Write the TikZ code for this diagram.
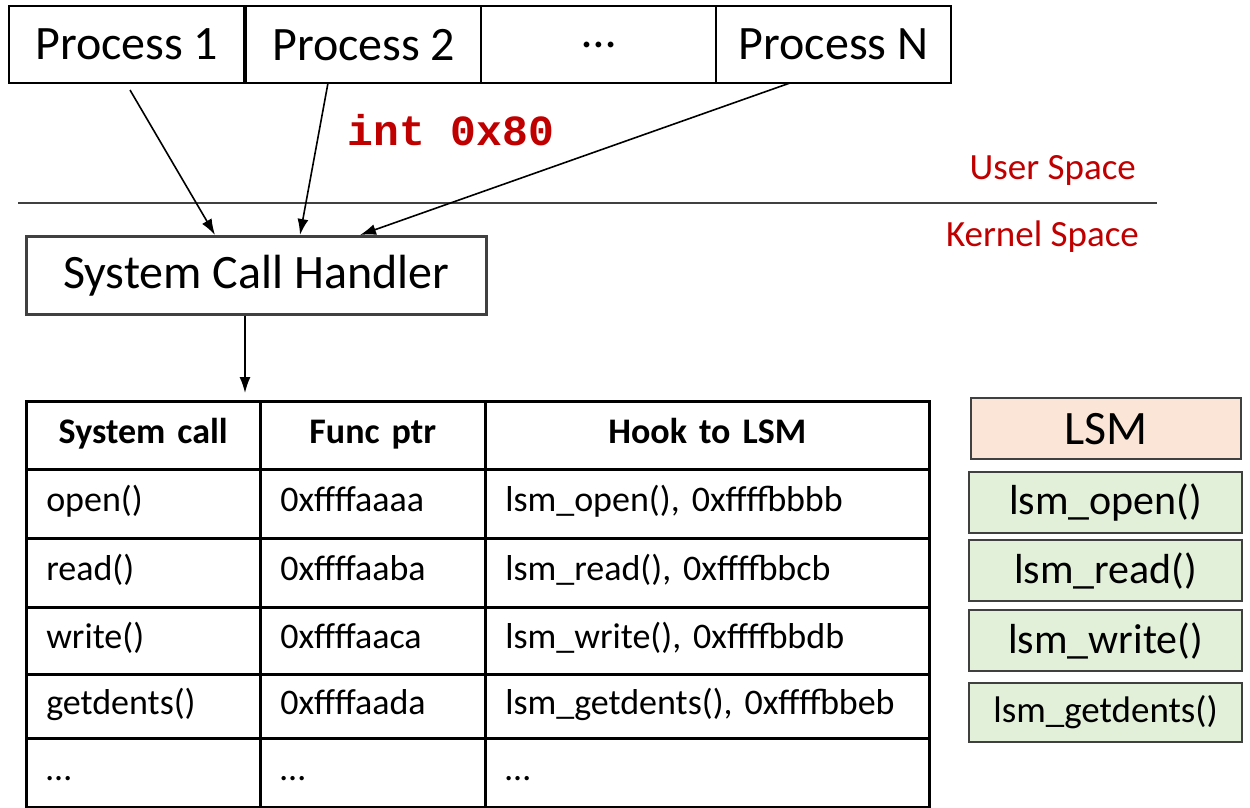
\documentclass[tikz,border=0pt]{standalone}
\usepackage{fontspec}
\setmainfont{Carlito}
\newfontfamily\codefont{Liberation Mono}
\usetikzlibrary{arrows.meta,positioning,calc}
\definecolor{darkred}{HTML}{C00000}
\definecolor{lsmfill}{HTML}{FBE5D6}
\definecolor{hookfill}{HTML}{E2F0D9}
\definecolor{edgegray}{HTML}{404040}
\begin{document}
\begin{tikzpicture}[x=1pt,y=-1pt,
  proc/.style={draw=black, line width=2.4pt, minimum width=235pt, minimum height=77pt,
    anchor=north west, inner sep=0pt, font=\fontsize{48}{52}\selectfont},
  handler/.style={draw=edgegray, line width=2.5pt, minimum width=460pt, minimum height=78pt,
    anchor=north west, inner sep=0pt, font=\fontsize{48}{52}\selectfont},
  cellbox/.style={draw=black, line width=2.5pt, anchor=north west, inner xsep=20pt,
    inner ysep=0pt, align=left, font=\fontsize{36}{40}\selectfont,
    execute at begin node=\strut},
  headcell/.style={cellbox, align=center, font=\bfseries\fontsize{36}{40}\selectfont},
  sidebox/.style={draw=edgegray, line width=2.2pt, anchor=north west, inner sep=0pt,
    minimum width=273pt},
  callarrow/.style={line width=1.6pt, -{Latex[length=16pt,width=11pt]}},
  spacelabel/.style={text=darkred, font=\fontsize{37}{40}\selectfont, anchor=east, inner sep=0pt},
]
\useasboundingbox (0,0) rectangle (1250,808);

% user-space processes
\node[proc] (p1) at (8,5) {Process 1};
\node[proc] (p2) at (245,5) {Process 2};
\node[proc] (p3) at (480,5) {\dots};
\node[proc] (pn) at (715,5) {Process N};

% boundary between user and kernel space
\coordinate (sepL) at (18,203);
\coordinate (sepR) at (1157,203);
\draw[line width=1.2pt, draw=edgegray] (sepL) -- (sepR);
\node[spacelabel] (user) at (1136,170) {User Space};
\node[spacelabel] (kernel) at (1139,237) {Kernel Space};

\node[text=darkred, font=\codefont\bfseries\fontsize{43}{46}\selectfont, inner sep=0pt]
  (int) at (451,130) {int 0x80};

% system call handler
\node[handler] (sch) at (25,235) {System Call Handler};

% traps into the handler
\coordinate (s1) at (130,90);
\coordinate (s2) at (328,83);
\coordinate (sn) at (790,83);
\draw[callarrow] (s1) -- (sch.north west -| 215,0);
\draw[callarrow] (s2) -- (sch.north west -| 300,0);
\draw[callarrow] (sn) -- (sch.north west -| 360,0);

% system call table
\node[headcell, text width=194pt, minimum height=68pt] (h1) at (25,400) {System call};
\node[headcell, text width=185pt, minimum height=68pt] (h2) at (259,400) {Func ptr};
\node[headcell, text width=404pt, minimum height=68pt] (h3) at (484,400) {Hook to LSM};

\node[cellbox, text width=194pt, minimum height=69pt] (a1) at (25,468) {open()};
\node[cellbox, text width=185pt, minimum height=69pt] (b1) at (259,468) {0xffffaaaa};
\node[cellbox, text width=404pt, minimum height=69pt] (c1) at (484,468) {lsm\_open(), 0xffffbbbb};

\node[cellbox, text width=194pt, minimum height=69pt] (a2) at (25,537) {read()};
\node[cellbox, text width=185pt, minimum height=69pt] (b2) at (259,537) {0xffffaaba};
\node[cellbox, text width=404pt, minimum height=69pt] (c2) at (484,537) {lsm\_read(), 0xffffbbcb};

\node[cellbox, text width=194pt, minimum height=67pt] (a3) at (25,606) {write()};
\node[cellbox, text width=185pt, minimum height=67pt] (b3) at (259,606) {0xffffaaca};
\node[cellbox, text width=404pt, minimum height=67pt] (c3) at (484,606) {lsm\_write(), 0xffffbbdb};

\node[cellbox, text width=194pt, minimum height=64pt] (a4) at (25,673) {getdents()};
\node[cellbox, text width=185pt, minimum height=64pt] (b4) at (259,673) {0xffffaada};
\node[cellbox, text width=404pt, minimum height=64pt] (c4) at (484,673) {lsm\_getdents(), 0xffffbbeb};

\node[cellbox, text width=194pt, minimum height=69pt] (a5) at (25,737) {\dots};
\node[cellbox, text width=185pt, minimum height=69pt] (b5) at (259,737) {\dots};
\node[cellbox, text width=404pt, minimum height=69pt] (c5) at (484,737) {\dots};

% handler looks up the table
\coordinate (tabTop) at (245,393);
\draw[callarrow] (sch.south west -| tabTop) -- (tabTop);

% LSM hooks
\node[sidebox, fill=lsmfill, minimum width=270pt, minimum height=61pt,
  font=\fontsize{48}{52}\selectfont] (lsm) at (970,397) {LSM};
\node[sidebox, fill=hookfill, minimum height=61pt, font=\fontsize{42}{46}\selectfont]
  (hopen) at (968,471) {lsm\_open()};
\node[sidebox, fill=hookfill, minimum height=61pt, font=\fontsize{42}{46}\selectfont]
  (hread) at (968,539) {lsm\_read()};
\node[sidebox, fill=hookfill, minimum height=61pt, font=\fontsize{42}{46}\selectfont]
  (hwrite) at (968,609) {lsm\_write()};
\node[sidebox, fill=hookfill, minimum height=59pt, font=\fontsize{37}{40}\selectfont]
  (hgetd) at (968,682) {lsm\_getdents()};
\end{tikzpicture}
\end{document}
